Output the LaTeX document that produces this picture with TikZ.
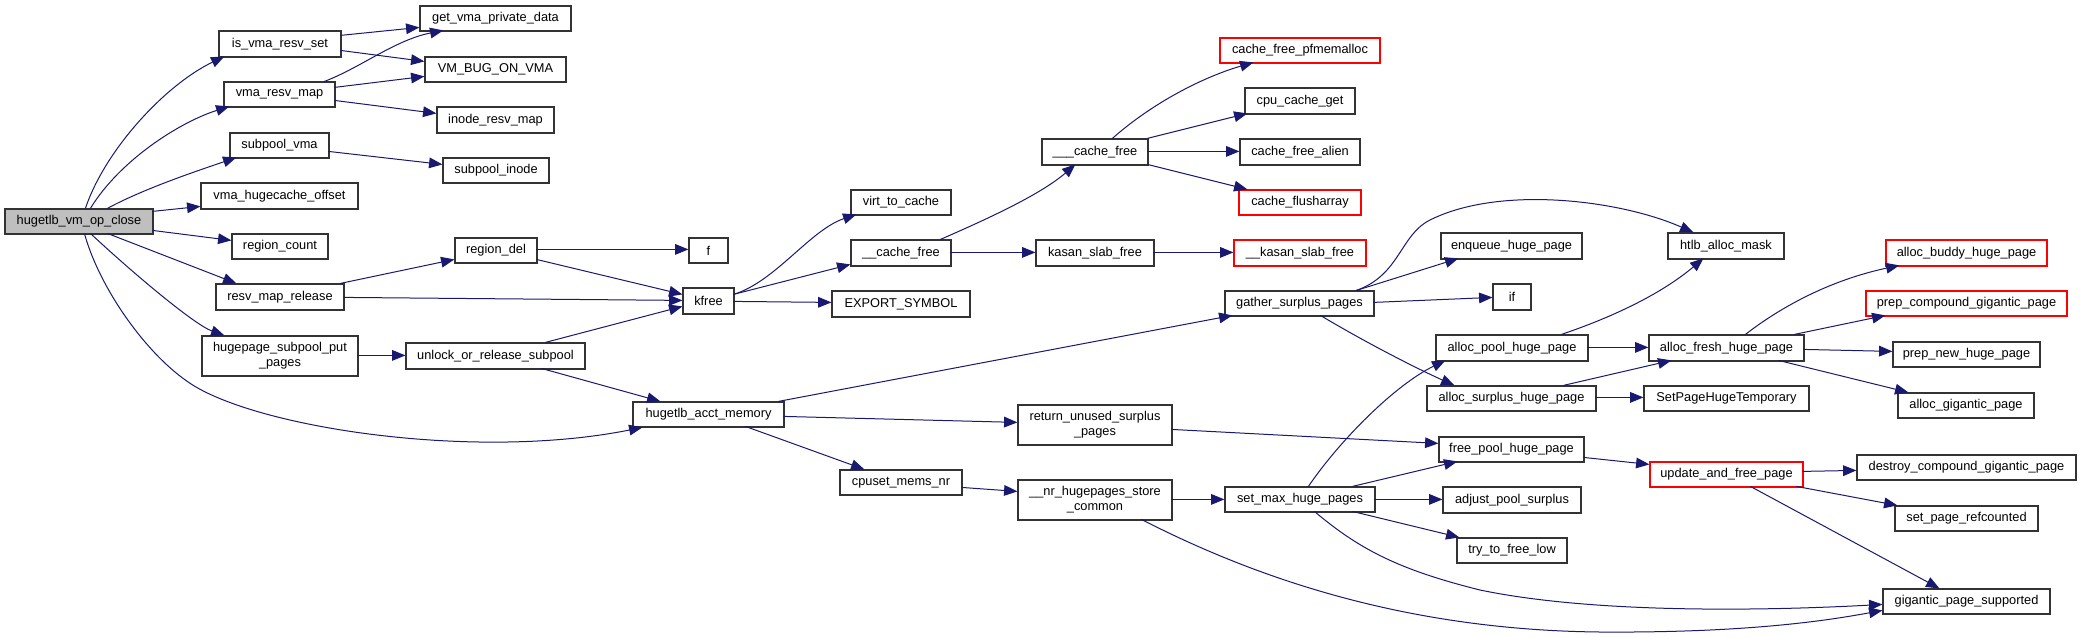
\documentclass[tikz,border=0pt]{standalone}
\usepackage{fontspec}
\setmainfont{Liberation Sans}
\usetikzlibrary{arrows.meta,calc}
\definecolor{edgec}{HTML}{191970}
\definecolor{rootc}{HTML}{BFBFBF}
\tikzset{
  gbox/.style={draw=black!80, line width=0.9pt, fill=white, inner sep=0pt,
    font=\fontsize{9.6}{11.3}\selectfont, align=center},
  redbox/.style={draw=red},
  rootbox/.style={fill=rootc},
  edge/.style={draw=edgec, line width=0.75pt, -{Triangle[length=10pt,width=8pt]}}
}
\newcommand\gnode[7][]{%
  \pgfmathsetmacro\gw{(#5-#3)*0.75}%
  \pgfmathsetmacro\gh{(#6-#4)*0.75}%
  \node[gbox,#1,minimum width=\gw pt,minimum height=\gh pt] (#2) at ({(#3+#5)/2},{(#4+#6)/2}) {#7};}
\begin{document}
\begin{tikzpicture}[x=0.75pt,y=-0.75pt]
\useasboundingbox[fill=white] (0,0) rectangle (2081,637);
% nodes
\gnode[rootbox]{close}{5}{209}{153}{234}{hugetlb\_vm\_op\_close}
\gnode{isvma}{219}{31}{341}{57}{is\_vma\_resv\_set}
\gnode{getvma}{420}{6}{571}{31}{get\_vma\_private\_data}
\gnode{vmbug}{425}{57}{566}{82}{VM\_BUG\_ON\_VMA}
\gnode{vmaresv}{224}{82}{335}{107}{vma\_resv\_map}
\gnode{inoderesv}{437}{107}{554}{133}{inode\_resv\_map}
\gnode{subvma}{230}{133}{329}{158}{subpool\_vma}
\gnode{subinode}{443}{158}{549}{183}{subpool\_inode}
\gnode{hugecache}{201}{183}{358}{209}{vma\_hugecache\_offset}
\gnode{regcount}{232}{234}{328}{259}{region\_count}
\gnode{regdel}{455}{238}{537}{263}{region\_del}
\gnode{resvrel}{216}{284}{344}{310}{resv\_map\_release}
\gnode{hsput}{202}{336}{358}{376}{hugepage\_subpool\_put\\\_pages}
\gnode{unlock}{406}{343}{585}{369}{unlock\_or\_release\_subpool}
\gnode{acct}{633}{402}{784}{427}{hugetlb\_acct\_memory}
\gnode{f}{689}{238}{728}{263}{f}
\gnode{kfree}{683}{288}{734}{314}{kfree}
\gnode{virt}{851}{190}{951}{215}{virt\_to\_cache}
\gnode{cfree2}{851}{240}{951}{266}{\_\_cache\_free}
\gnode{export}{832}{291}{970}{317}{EXPORT\_SYMBOL}
\gnode{cfree3}{1042}{139}{1148}{165}{\_\_\_cache\_free}
\gnode{kasan}{1036}{240}{1154}{266}{kasan\_slab\_free}
\gnode[redbox]{pfmem}{1220}{38}{1380}{63}{cache\_free\_pfmemalloc}
\gnode{cpuget}{1245}{88}{1355}{114}{cpu\_cache\_get}
\gnode{alien}{1240}{139}{1360}{165}{cache\_free\_alien}
\gnode[redbox]{flush}{1239}{190}{1361}{215}{cache\_flusharray}
\gnode[redbox]{kkasan}{1234}{240}{1366}{266}{\_\_kasan\_slab\_free}
\gnode{gather}{1225}{291}{1374}{316}{gather\_surplus\_pages}
\gnode{retunused}{1018}{405}{1172}{445}{return\_unused\_surplus\\\_pages}
\gnode{cpuset}{840}{470}{962}{495}{cpuset\_mems\_nr}
\gnode{nrhuge}{1018}{480}{1172}{520}{\_\_nr\_hugepages\_store\\\_common}
\gnode{setmax}{1225}{487}{1375}{512}{set\_max\_huge\_pages}
\gnode{enqueue}{1441}{233}{1582}{259}{enqueue\_huge\_page}
\gnode{htlb}{1668}{233}{1784}{259}{htlb\_alloc\_mask}
\gnode{ifn}{1493}{284}{1531}{310}{if}
\gnode[redbox]{buddy}{1886}{240}{2047}{266}{alloc\_buddy\_huge\_page}
\gnode[redbox]{prepcomp}{1866}{291}{2067}{316}{prep\_compound\_gigantic\_page}
\gnode{poolhp}{1436}{335}{1588}{361}{alloc\_pool\_huge\_page}
\gnode{fresh}{1649}{335}{1804}{361}{alloc\_fresh\_huge\_page}
\gnode{prepnew}{1893}{342}{2040}{367}{prep\_new\_huge\_page}
\gnode{surplus}{1427}{386}{1596}{411}{alloc\_surplus\_huge\_page}
\gnode{sptemp}{1644}{386}{1809}{411}{SetPageHugeTemporary}
\gnode{gigalloc}{1898}{393}{2034}{418}{alloc\_gigantic\_page}
\gnode{freepool}{1439}{437}{1584}{462}{free\_pool\_huge\_page}
\gnode[redbox]{update}{1650}{462}{1803}{487}{update\_and\_free\_page}
\gnode{destroy}{1857}{455}{2076}{480}{destroy\_compound\_gigantic\_page}
\gnode{adjust}{1443}{487}{1581}{513}{adjust\_pool\_surplus}
\gnode{setref}{1895}{506}{2038}{531}{set\_page\_refcounted}
\gnode{tryfree}{1457}{538}{1567}{563}{try\_to\_free\_low}
\gnode{gigsup}{1883}{589}{2050}{614}{gigantic\_page\_supported}
% edges from hugetlb_vm_op_close
\draw[edge] ($(close.north west)+(81,0)$) .. controls (105,150) and (165,85) .. ($(isvma.north west)+(6,26)$);
\draw[edge] ($(close.north west)+(86,0)$) .. controls (120,160) and (180,122) .. ($(vmaresv.north west)+(6,25)$);
\draw[edge] ($(close.north west)+(103,0)$) .. controls (145,188) and (200,170) .. ($(subvma.north west)+(7,25)$);
\draw[edge] ($(close.north west)+(148,3)$) -- ($(hugecache.north west)+(0,24)$);
\draw[edge] ($(close.north west)+(148,22)$) -- ($(regcount.north west)+(0,7)$);
\draw[edge] ($(close.north west)+(103,25)$) -- ($(resvrel.north west)+(21,0)$);
\draw[edge] ($(close.north west)+(86,25)$) .. controls (135,275) and (195,325) .. ($(hsput.north west)+(23,0)$);
\draw[edge] ($(close.north west)+(80,25)$) .. controls (100,290) and (150,360) .. (196,387) .. controls (270,430) and (480,460) .. ($(acct.north west)+(10,26)$);
% second column
\draw[edge] ($(isvma.north west)+(122,5)$) -- ($(getvma.north west)+(0,22)$);
\draw[edge] ($(isvma.north west)+(122,20)$) -- ($(vmbug.north west)+(0,5)$);
\draw[edge] ($(vmaresv.north west)+(101,0)$) .. controls (360,68) and (395,40) .. ($(getvma.north west)+(24,25)$);
\draw[edge] ($(vmaresv.north west)+(111,6)$) -- ($(vmbug.north west)+(0,20)$);
\draw[edge] ($(vmaresv.north west)+(111,19)$) -- ($(inoderesv.north west)+(0,7)$);
\draw[edge] ($(subvma.north west)+(99,19)$) -- ($(subinode.north west)+(0,7)$);
\draw[edge] ($(resvrel.north west)+(125,0)$) -- ($(regdel.north west)+(0,22)$);
\draw[edge] ($(resvrel.north west)+(128,14)$) -- ($(kfree.north west)+(0,13)$);
\draw[edge] ($(regdel.north west)+(82,12)$) -- ($(f.north west)+(0,12)$);
\draw[edge] ($(regdel.north west)+(82,22)$) -- ($(kfree.north west)+(0,7)$);
\draw[edge] ($(hsput.north west)+(156,20)$) -- ($(unlock.north west)+(0,13)$);
\draw[edge] ($(unlock.north west)+(140,0)$) -- ($(kfree.north west)+(0,19)$);
\draw[edge] ($(unlock.north west)+(136,26)$) -- ($(acct.north west)+(28,0)$);
% kfree
\draw[edge] ($(kfree.north west)+(51,7)$) .. controls (775,282) and (810,230) .. ($(virt.north west)+(6,25)$);
\draw[edge] ($(kfree.north west)+(51,7)$) -- ($(cfree2.north west)+(0,25)$);
\draw[edge] ($(kfree.north west)+(51,14)$) -- ($(export.north west)+(0,12)$);
\draw[edge] ($(cfree2.north west)+(90,0)$) .. controls (985,220) and (1040,195) .. ($(cfree3.north west)+(34,26)$);
\draw[edge] ($(cfree2.north west)+(100,13)$) -- ($(kasan.north west)+(0,13)$);
\draw[edge] ($(kasan.north west)+(118,13)$) -- ($(kkasan.north west)+(0,13)$);
\draw[edge] ($(cfree3.north west)+(71,0)$) .. controls (1150,105) and (1200,78) .. ($(pfmem.north west)+(34,25)$);
\draw[edge] ($(cfree3.north west)+(106,0)$) -- ($(cpuget.north west)+(3,26)$);
\draw[edge] ($(cfree3.north west)+(106,13)$) -- ($(alien.north west)+(0,13)$);
\draw[edge] ($(cfree3.north west)+(106,26)$) -- ($(flush.north west)+(9,0)$);
% hugetlb_acct_memory
\draw[edge] ($(acct.north west)+(146,0)$) -- ($(gather.north west)+(8,25)$);
\draw[edge] ($(acct.north west)+(151,15)$) -- ($(retunused.north west)+(0,18)$);
\draw[edge] ($(acct.north west)+(113,25)$) -- ($(cpuset.north west)+(25,0)$);
\draw[edge] ($(cpuset.north west)+(122,18)$) -- ($(nrhuge.north west)+(0,12)$);
\draw[edge] ($(nrhuge.north west)+(154,20)$) -- ($(setmax.north west)+(0,13)$);
\draw[edge] ($(nrhuge.north west)+(124,40)$) .. controls (1250,575) and (1400,630) .. (1600,632) .. controls (1750,633) and (1830,620) .. ($(gigsup.north west)+(0,22)$);
\draw[edge] ($(retunused.north west)+(154,25)$) -- ($(freepool.north west)+(0,7)$);
% set_max_huge_pages
\draw[edge] ($(setmax.north west)+(84,0)$) .. controls (1340,440) and (1395,385) .. ($(poolhp.north west)+(10,26)$);
\draw[edge] ($(setmax.north west)+(128,0)$) -- ($(freepool.north west)+(19,25)$);
\draw[edge] ($(setmax.north west)+(150,13)$) -- ($(adjust.north west)+(0,13)$);
\draw[edge] ($(setmax.north west)+(128,25)$) -- ($(tryfree.north west)+(3,0)$);
\draw[edge] ($(setmax.north west)+(90,25)$) .. controls (1360,550) and (1400,570) .. (1480,590) .. controls (1600,615) and (1780,610) .. ($(gigsup.north west)+(0,16)$);
% gather_surplus_pages
\draw[edge] ($(gather.north west)+(132,0)$) .. controls (1400,275) and (1400,235) .. (1430,220) .. controls (1500,185) and (1620,200) .. ($(htlb.north west)+(26,0)$);
\draw[edge] ($(gather.north west)+(132,0)$) -- ($(enqueue.north west)+(18,26)$);
\draw[edge] ($(gather.north west)+(149,12)$) -- ($(ifn.north west)+(0,14)$);
\draw[edge] ($(gather.north west)+(96,25)$) .. controls (1370,345) and (1420,370) .. ($(surplus.north west)+(28,0)$);
% alloc pages
\draw[edge] ($(poolhp.north west)+(126,0)$) .. controls (1610,318) and (1660,295) .. ($(htlb.north west)+(36,26)$);
\draw[edge] ($(poolhp.north west)+(152,13)$) -- ($(fresh.north west)+(0,13)$);
\draw[edge] ($(surplus.north west)+(137,0)$) -- ($(fresh.north west)+(23,26)$);
\draw[edge] ($(surplus.north west)+(169,12)$) -- ($(sptemp.north west)+(0,12)$);
\draw[edge] ($(fresh.north west)+(97,0)$) .. controls (1790,300) and (1840,278) .. ($(buddy.north west)+(14,26)$);
\draw[edge] ($(fresh.north west)+(146,0)$) -- ($(prepcomp.north west)+(20,25)$);
\draw[edge] ($(fresh.north west)+(155,15)$) -- ($(prepnew.north west)+(0,10)$);
\draw[edge] ($(fresh.north west)+(130,26)$) -- ($(gigalloc.north west)+(11,0)$);
\draw[edge] ($(freepool.north west)+(145,21)$) -- ($(update.north west)+(0,3)$);
\draw[edge] ($(update.north west)+(153,10)$) -- ($(destroy.north west)+(0,16)$);
\draw[edge] ($(update.north west)+(147,25)$) -- ($(setref.north west)+(3,0)$);
\draw[edge] ($(update.north west)+(101,25)$) -- ($(gigsup.north west)+(57,0)$);
\end{tikzpicture}
\end{document}
